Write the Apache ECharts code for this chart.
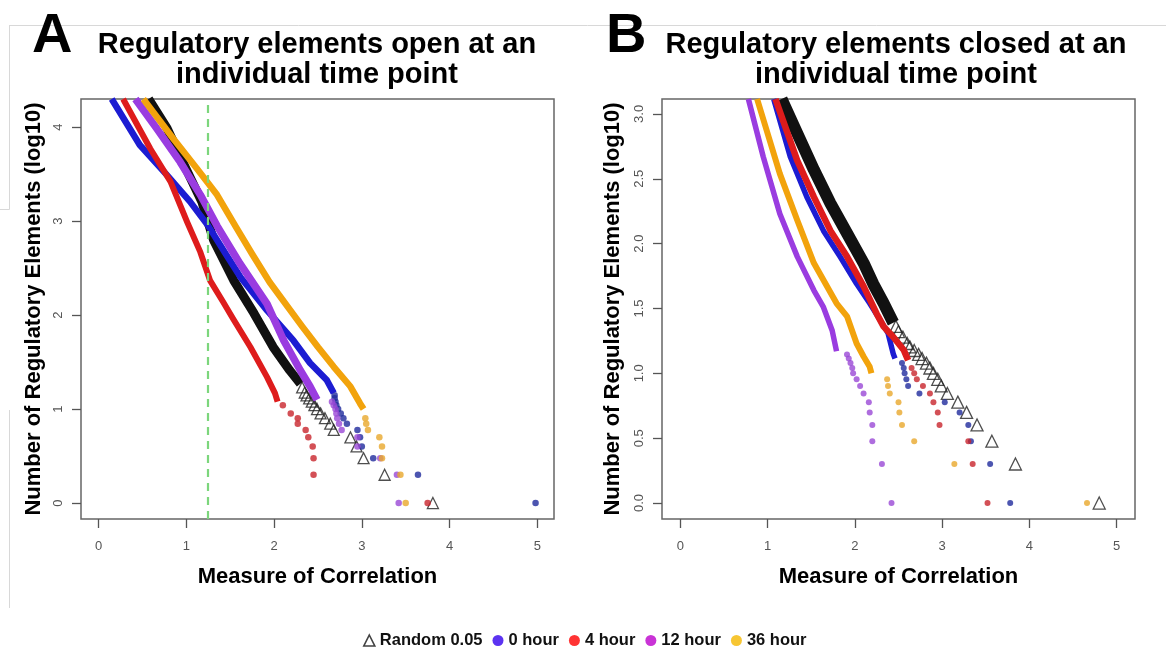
<!DOCTYPE html>
<html>
<head>
<meta charset="utf-8">
<script src="https://cdn.jsdelivr.net/npm/echarts@6/dist/echarts.min.js"></script>
<style>html,body{margin:0;padding:0;background:#fff}#c{width:1166px;height:649px}</style>
</head>
<body>
<div id="c"></div>
<script>
// ---- labels / ticks ----
const seriesNames = ['Random 0.05', '0 hour', '4 hour', '12 hour', '36 hour'];
const xTicks = [0, 1, 2, 3, 4, 5];
const yTicksA = [0, 1, 2, 3, 4];
const yTicksB = [0, 0.5, 1, 1.5, 2, 2.5, 3];
const correlationCutoffA = 1.25;

// ---- Panel A: open at an individual time point  [measure, log10(count)] ----
const aRandomDense = [[0.57,4.30],[0.78,3.99],[1.00,3.55],[1.18,3.20],[1.31,2.80],[1.54,2.37],[1.77,2.02],[1.99,1.66],[2.18,1.41],[2.30,1.27]];
const aRandomTri = [[2.32,1.230],[2.35,1.176],[2.37,1.146],[2.40,1.114],[2.43,1.079],[2.46,1.041],[2.49,1.0],[2.53,0.954],[2.58,0.903],[2.64,0.845],[2.68,0.778],[2.87,0.699],[2.94,0.602],[3.02,0.477],[3.26,0.301],[3.81,0]];
const a0hDense = [[0.15,4.30],[0.47,3.81],[0.78,3.49],[1.04,3.21],[1.25,2.95],[1.45,2.65],[1.62,2.40],[1.92,2.05],[2.22,1.73],[2.41,1.49],[2.60,1.31],[2.68,1.17]];
const a0hTail = [[2.69,1.146],[2.69,1.114],[2.70,1.079],[2.71,1.041],[2.73,1.0],[2.76,0.954],[2.79,0.903],[2.83,0.845],[2.95,0.778],[2.98,0.699],[3.00,0.602],[3.13,0.477],[3.64,0.301],[4.98,0]];
const a4hDense = [[0.28,4.30],[0.59,3.77],[0.82,3.42],[1.01,2.99],[1.16,2.67],[1.27,2.37],[1.42,2.14],[1.54,1.95],[1.73,1.66],[1.92,1.34],[2.01,1.17],[2.04,1.08]];
const a4hTail = [[2.10,1.041],[2.19,0.954],[2.27,0.903],[2.27,0.845],[2.36,0.778],[2.39,0.699],[2.44,0.602],[2.45,0.477],[2.45,0.301],[3.75,0]];
const a12hDense = [[0.42,4.30],[0.66,3.99],[0.93,3.63],[1.16,3.28],[1.35,2.95],[1.61,2.55],[1.92,2.12],[2.11,1.73],[2.30,1.41],[2.41,1.24],[2.49,1.10]];
const a12hTail = [[2.66,1.079],[2.68,1.041],[2.70,1.0],[2.71,0.954],[2.72,0.903],[2.74,0.845],[2.77,0.778],[2.95,0.699],[2.95,0.602],[3.21,0.477],[3.40,0.301],[3.42,0]];
const a36hDense = [[0.51,4.30],[0.85,3.88],[1.12,3.56],[1.35,3.28],[1.57,2.93],[1.75,2.65],[1.95,2.35],[2.32,1.88],[2.50,1.66],[2.68,1.45],[2.87,1.24],[2.98,1.06],[3.02,1.0]];
const a36hTail = [[3.04,0.903],[3.05,0.845],[3.07,0.778],[3.20,0.699],[3.23,0.602],[3.23,0.477],[3.44,0.301],[3.50,0]];

// ---- Panel B: closed at an individual time point ----
const bRandomDense = [[1.16,3.115],[1.34,2.85],[1.53,2.57],[1.72,2.31],[1.91,2.08],[2.10,1.85],[2.21,1.69],[2.33,1.54],[2.44,1.39]];
const bRandomTri = [[2.47,1.362],[2.50,1.322],[2.55,1.279],[2.60,1.230],[2.63,1.204],[2.68,1.176],[2.73,1.146],[2.77,1.114],[2.82,1.079],[2.86,1.041],[2.90,1.0],[2.95,0.954],[2.99,0.903],[3.06,0.845],[3.18,0.778],[3.28,0.699],[3.40,0.602],[3.57,0.477],[3.84,0.301],[4.80,0]];
const b0hDense = [[1.07,3.115],[1.26,2.67],[1.45,2.36],[1.64,2.10],[1.83,1.90],[2.02,1.69],[2.17,1.54],[2.29,1.41],[2.38,1.31],[2.44,1.15],[2.46,1.114]];
const b0hTail = [[2.54,1.079],[2.56,1.041],[2.57,1.0],[2.59,0.954],[2.61,0.903],[2.74,0.845],[3.03,0.778],[3.20,0.699],[3.30,0.602],[3.33,0.477],[3.55,0.301],[3.78,0]];
const b4hDense = [[1.09,3.115],[1.34,2.64],[1.53,2.36],[1.72,2.10],[1.91,1.90],[2.10,1.67],[2.25,1.46],[2.33,1.36],[2.44,1.28],[2.56,1.18],[2.61,1.10]];
const b4hTail = [[2.65,1.041],[2.68,1.0],[2.71,0.954],[2.78,0.903],[2.86,0.845],[2.90,0.778],[2.95,0.699],[2.97,0.602],[3.30,0.477],[3.35,0.301],[3.52,0]];
const b12hDense = [[0.78,3.115],[0.95,2.67],[1.14,2.23],[1.34,1.90],[1.53,1.64],[1.64,1.51],[1.74,1.33],[1.79,1.17]];
const b12hTail = [[1.91,1.146],[1.93,1.114],[1.95,1.079],[1.97,1.041],[1.98,1.0],[2.02,0.954],[2.06,0.903],[2.10,0.845],[2.16,0.778],[2.17,0.699],[2.20,0.602],[2.20,0.477],[2.31,0.301],[2.42,0]];
const b36hDense = [[0.88,3.115],[1.14,2.54],[1.34,2.18],[1.53,1.85],[1.79,1.54],[1.91,1.44],[2.02,1.23],[2.10,1.13],[2.17,1.05],[2.19,1.0]];
const b36hTail = [[2.37,0.954],[2.38,0.903],[2.40,0.845],[2.50,0.778],[2.51,0.699],[2.54,0.602],[2.68,0.477],[3.14,0.301],[4.66,0]];

// ---- styling ----
const F = '"Liberation Sans", Arial, Helvetica, sans-serif';
const C = {
  black: '#111111',
  blue: '#1c1cd2', blueTail: '#1f2a9c',
  red: '#de1c1c', redTail: '#c8242c',
  purple: '#9a3ce0', purpleTail: '#9a48d6',
  orange: '#f2a30c', orangeTail: '#e8a82c'
};

function dense(name, gi, data, color, width) {
  return { type: 'line', name, xAxisIndex: gi, yAxisIndex: gi, data, showSymbol: false, symbol: 'none',
    lineStyle: { color, width, cap: 'butt', join: 'round' }, itemStyle: { color }, silent: true, animation: false };
}
function dots(name, gi, data, color, size) {
  return { type: 'scatter', name, xAxisIndex: gi, yAxisIndex: gi, data, symbol: 'circle', symbolSize: size,
    itemStyle: { color }, silent: true, animation: false };
}
function tris(name, gi, data, size) {
  return { type: 'scatter', name, xAxisIndex: gi, yAxisIndex: gi, data, symbol: 'triangle', symbolSize: size,
    itemStyle: { color: 'rgba(0,0,0,0)', borderColor: '#222', borderWidth: 1.3 }, silent: true, animation: false };
}

function xAxisFor(gi, min, max) {
  return { type: 'value', gridIndex: gi, min, max,
    name: 'Measure of Correlation', nameLocation: 'middle', nameGap: 47,
    nameTextStyle: { fontSize: 22, fontWeight: 'bold', color: '#000', fontFamily: F },
    axisLine: { show: false, onZero: false }, splitLine: { show: false },
    axisTick: { show: true, customValues: xTicks, length: 9, lineStyle: { color: '#555', width: 1.3 } },
    axisLabel: { customValues: xTicks, margin: 21, fontSize: 13, color: '#555', fontFamily: F } };
}
function yAxisFor(gi, min, max, ticks, fmt, gap) {
  return { type: 'value', gridIndex: gi, min, max,
    name: 'Number of Regulatory Elements (log10)', nameLocation: 'middle', nameGap: gap,
    nameTextStyle: { fontSize: 22, fontWeight: 'bold', color: '#000', fontFamily: F },
    axisLine: { show: false, onZero: false }, splitLine: { show: false },
    axisTick: { show: true, customValues: ticks, length: 9, lineStyle: { color: '#555', width: 1.3 } },
    axisLabel: { customValues: ticks, rotate: 90, margin: 16, fontSize: 13, color: '#555', fontFamily: F,
      formatter: fmt } };
}

const series = [
  // Panel A
  tris(seriesNames[0], 0, aRandomTri, 11),
  dense(seriesNames[0], 0, aRandomDense, C.black, 9),
  dots(seriesNames[1], 0, a0hTail, C.blueTail, 6.5),
  dense(seriesNames[1], 0, a0hDense, C.blue, 6.5),
  dots(seriesNames[2], 0, a4hTail, C.redTail, 6.5),
  dense(seriesNames[2], 0, a4hDense, C.red, 6),
  dots(seriesNames[3], 0, a12hTail, C.purpleTail, 6.5),
  dense(seriesNames[3], 0, a12hDense, C.purple, 7.5),
  dots(seriesNames[4], 0, a36hTail, C.orangeTail, 6.5),
  Object.assign(dense(seriesNames[4], 0, a36hDense, C.orange, 6.5), {
    markLine: { silent: true, symbol: ['none', 'none'], label: { show: false }, animation: false,
      lineStyle: { color: '#7cd67c', type: [8, 6], width: 2.2 },
      data: [{ xAxis: correlationCutoffA }] }
  }),
  // Panel B
  tris(seriesNames[0], 1, bRandomTri, 12),
  dense(seriesNames[0], 1, bRandomDense, C.black, 12),
  dots(seriesNames[1], 1, b0hTail, C.blueTail, 6),
  dense(seriesNames[1], 1, b0hDense, C.blue, 5.5),
  dots(seriesNames[2], 1, b4hTail, C.redTail, 6),
  dense(seriesNames[2], 1, b4hDense, C.red, 6.5),
  dots(seriesNames[3], 1, b12hTail, C.purpleTail, 6),
  dense(seriesNames[3], 1, b12hDense, C.purple, 5.5),
  dots(seriesNames[4], 1, b36hTail, C.orangeTail, 6),
  dense(seriesNames[4], 1, b36hDense, C.orange, 6)
];

const chart = echarts.init(document.getElementById('c'), null, { renderer: 'canvas' });
chart.setOption({
  backgroundColor: '#fff',
  animation: false,
  title: [
    { text: 'A', left: 32, top: 9, padding: 0, textStyle: { fontSize: 56, fontWeight: 'bold', color: '#000', fontFamily: F } },
    { text: 'B', left: 606, top: 9, padding: 0, textStyle: { fontSize: 56, fontWeight: 'bold', color: '#000', fontFamily: F } },
    { text: 'Regulatory elements open at an\nindividual time point', left: 317, top: 30, padding: 0, textAlign: 'center',
      textStyle: { fontSize: 29, fontWeight: 'bold', color: '#000', fontFamily: F, lineHeight: 30 } },
    { text: 'Regulatory elements closed at an\nindividual time point', left: 896, top: 30, padding: 0, textAlign: 'center',
      textStyle: { fontSize: 29, fontWeight: 'bold', color: '#000', fontFamily: F, lineHeight: 30 } }
  ],
  legend: {
    left: 363, top: 632, itemGap: 10, itemWidth: 11, itemHeight: 11, selectedMode: false, padding: 0,
    textStyle: { fontSize: 16.5, fontWeight: 'bold', color: '#111', fontFamily: F },
    data: [
      { name: seriesNames[0], icon: 'triangle', itemStyle: { color: 'rgba(0,0,0,0)', borderColor: '#111', borderWidth: 1.6 } },
      { name: seriesNames[1], icon: 'circle', itemStyle: { color: '#3300ee', borderWidth: 0 } },
      { name: seriesNames[2], icon: 'circle', itemStyle: { color: '#ff0000', borderWidth: 0 } },
      { name: seriesNames[3], icon: 'circle', itemStyle: { color: '#bb00cc', borderWidth: 0 } },
      { name: seriesNames[4], icon: 'circle', itemStyle: { color: '#f5b800', borderWidth: 0 } }
    ]
  },
  grid: [
    { left: 81, top: 99, width: 473, height: 420, show: true, borderColor: '#666', borderWidth: 1.5, backgroundColor: 'transparent', containLabel: false },
    { left: 662, top: 99, width: 473, height: 420, show: true, borderColor: '#666', borderWidth: 1.5, backgroundColor: 'transparent', containLabel: false }
  ],
  xAxis: [xAxisFor(0, -0.2, 5.19), xAxisFor(1, -0.21, 5.21)],
  yAxis: [
    yAxisFor(0, -0.17, 4.30, yTicksA, v => String(v), 36),
    yAxisFor(1, -0.123, 3.115, yTicksB, v => v.toFixed(1), 38)
  ],
  graphic: [
    { type: 'line', silent: true, shape: { x1: 9, y1: 25.5, x2: 1166, y2: 25.5 }, style: { stroke: '#d8d8d8', lineWidth: 1 } },
    { type: 'line', silent: true, shape: { x1: 9.5, y1: 25.5, x2: 9.5, y2: 209.5 }, style: { stroke: '#d8d8d8', lineWidth: 1 } },
    { type: 'line', silent: true, shape: { x1: 0, y1: 209.5, x2: 9.5, y2: 209.5 }, style: { stroke: '#d8d8d8', lineWidth: 1 } },
    { type: 'line', silent: true, shape: { x1: 9.5, y1: 410, x2: 9.5, y2: 608 }, style: { stroke: '#d8d8d8', lineWidth: 1 } }
  ],
  series
});
</script>
</body>
</html>
